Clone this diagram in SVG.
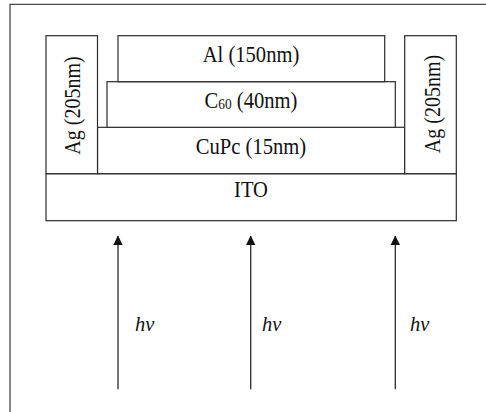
<svg xmlns="http://www.w3.org/2000/svg" width="486" height="412" viewBox="0 0 486 412">
  <style>
    .frame { fill: none; stroke: #4a4a4a; stroke-width: 1.3; }
    .layer { fill: #ffffff; stroke: #2b2b2b; stroke-width: 1.2; }
    .lbl { font-family: "Liberation Serif", "Times New Roman", serif; font-size: 20px; fill: #111; text-anchor: middle; }
    .sub { font-size: 13px; }
    .hv { font-family: "Liberation Serif", "Times New Roman", serif; font-size: 20.5px; font-style: italic; fill: #111; }
    .ray { stroke: #2b2b2b; stroke-width: 1.3; fill: none; }
  </style>
  <defs>
    <marker id="head" markerWidth="10" markerHeight="10" refX="9" refY="5" orient="auto" markerUnits="userSpaceOnUse">
      <path d="M0,0.3 L9.5,5 L0,9.7 Z" fill="#111"/>
    </marker>
  </defs>
  <rect width="486" height="412" fill="#ffffff"/>

  <!-- page frame -->
  <path class="frame" d="M10,412 L10,4.3 L486,4.3"/>

  <!-- device stack -->
  <g id="ito">
    <rect class="layer" x="46" y="173.7" width="410.3" height="47"/>
    <text class="lbl" transform="translate(251,197) scale(1.03,1.14)">ITO</text>
  </g>
  <g id="cupc">
    <rect class="layer" x="97.5" y="127.3" width="307.2" height="46.4"/>
    <text class="lbl" transform="translate(251,153.5) scale(1.03,1.14)">CuPc (15nm)</text>
  </g>
  <g id="c60">
    <rect class="layer" x="107" y="81.7" width="288.3" height="45.6"/>
    <text class="lbl" transform="translate(251,107.5) scale(1.03,1.14)">C<tspan class="sub" dy="1">60</tspan><tspan dy="-1"> (40nm)</tspan></text>
  </g>
  <g id="al">
    <rect class="layer" x="118" y="35.7" width="266.7" height="46"/>
    <text class="lbl" transform="translate(251,62.3) scale(1.03,1.14)">Al (150nm)</text>
  </g>
  <g id="ag-left">
    <rect class="layer" x="46" y="35.7" width="51.5" height="138"/>
    <text class="lbl" transform="translate(80,105.5) rotate(-90) scale(1.0,1.12)">Ag (205nm)</text>
  </g>
  <g id="ag-right">
    <rect class="layer" x="404.7" y="35.7" width="51.6" height="138"/>
    <text class="lbl" transform="translate(439.5,104) rotate(-90) scale(1.0,1.12)">Ag (205nm)</text>
  </g>

  <!-- incident light -->
  <g id="connectors">
    <line class="ray" x1="118" y1="389.3" x2="118" y2="236" marker-end="url(#head)"/>
    <line class="ray" x1="250.7" y1="389.3" x2="250.7" y2="236" marker-end="url(#head)"/>
    <line class="ray" x1="395.3" y1="389.3" x2="395.3" y2="236" marker-end="url(#head)"/>
  </g>
  <g id="labels">
    <text class="hv" x="135" y="331">hv</text>
    <text class="hv" x="262" y="331">hv</text>
    <text class="hv" x="410" y="331">hv</text>
  </g>
</svg>
